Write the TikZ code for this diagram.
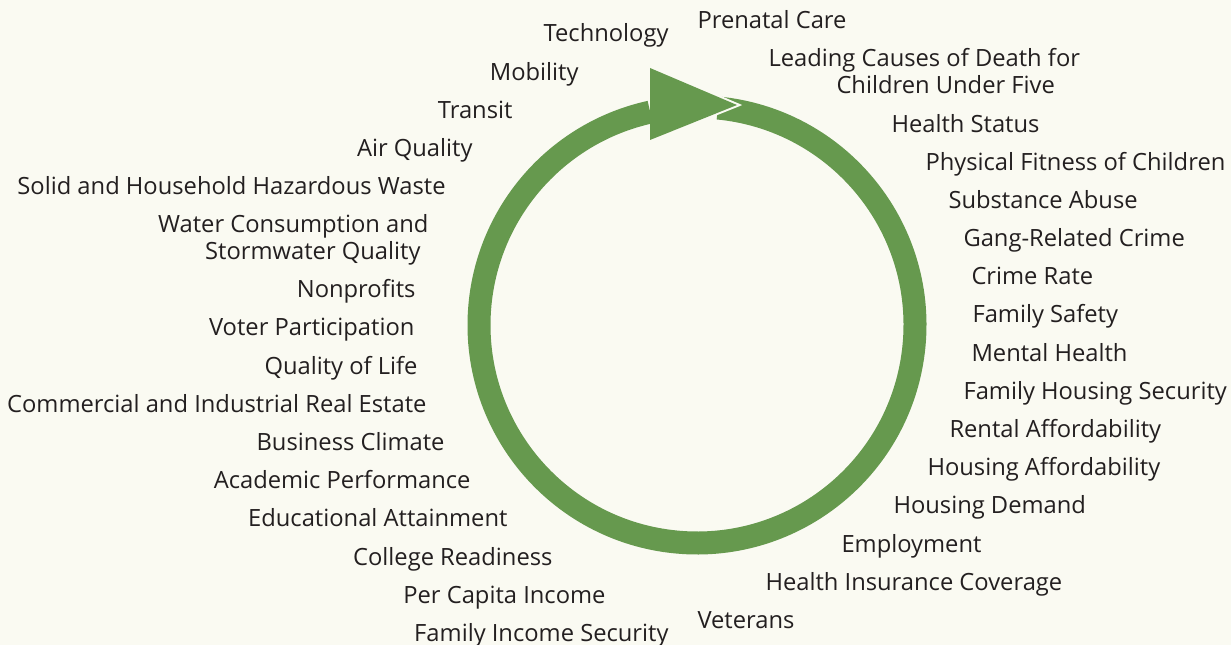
\documentclass[tikz,border=0pt]{standalone}
\usepackage{fontspec}
\setmainfont{Open Sans}
\definecolor{ringgreen}{RGB}{102,153,78}
\definecolor{paper}{RGB}{250,250,242}
\definecolor{ink}{RGB}{35,31,32}
\tikzset{every picture/.style={line width=0.75pt}}
\tikzset{lbl/.style={inner sep=0pt, text=ink, font=\fontsize{17.8}{19.9}\selectfont},
  lblR/.style={lbl, anchor=base west},
  lblL/.style={lbl, anchor=base east}}

\begin{document}
\begin{tikzpicture}[x=0.75pt,y=0.75pt,yscale=-1,xscale=1]
\fill [paper] (0,0) rectangle (1231,645) ;
\useasboundingbox (0,0) rectangle (1231,645) ;

%Ring
\coordinate (c) at (697,325) ;
\draw [ringgreen, line width=17.25pt] (c) ++(-84.5:218) arc[start angle=-84.5, end angle=257.6, radius=218] ;
%Arrow head
\coordinate (hT) at (650,68) ;
\coordinate (hP) at (737,105) ;
\coordinate (hB) at (650,140) ;
\draw [paper, line width=3pt, line join=miter] (hT) -- (hP) -- (hB) ;
\fill [ringgreen] (hT) -- (hP) -- (hB) -- cycle ;

%Right side
\node [lblR] (r1) at (697,29) {Prenatal Care} ;
\node [lblR, align=left] (r2) at (768,93.5) {Leading Causes of Death for\\\hspace*{51pt}Children Under Five} ;
\node [lblR] (r3) at (891,132.5) {Health Status} ;
\node [lblR] (r4) at (925,170.5) {Physical Fitness of Children} ;
\node [lblR] (r5) at (948,208.5) {Substance Abuse} ;
\node [lblR] (r6) at (963,246.5) {Gang-Related Crime} ;
\node [lblR] (r7) at (971,284.5) {Crime Rate} ;
\node [lblR] (r8) at (972,322.5) {Family Safety} ;
\node [lblR] (r9) at (971,361.5) {Mental Health} ;
\node [lblR] (r10) at (963,399.5) {Family Housing Security} ;
\node [lblR] (r11) at (949,437.5) {Rental Affordability} ;
\node [lblR] (r12) at (927,475.5) {Housing Affordability} ;
\node [lblR] (r13) at (893,513.5) {Housing Demand} ;
\node [lblR] (r14) at (841,552.5) {Employment} ;
\node [lblR] (r15) at (765,590.5) {Health Insurance Coverage} ;
\node [lblR] (r16) at (697,628.5) {Veterans} ;

%Left side
\node [lblL] (l1) at (669,41.5) {Technology} ;
\node [lblL] (l2) at (579,80.5) {Mobility} ;
\node [lblL] (l3) at (513,118.5) {Transit} ;
\node [lblL] (l4) at (473,156.5) {Air Quality} ;
\node [lblL] (l5) at (446,194.5) {Solid and Household Hazardous Waste} ;
\node [lblL, align=right] (l6) at (429,259.5) {Water Consumption and\\Stormwater Quality\hspace*{6pt}} ;
\node [lblL] (l7) at (416,297.5) {Nonprofits} ;
\node [lblL] (l8) at (415,335.5) {Voter Participation} ;
\node [lblL] (l9) at (418,374.5) {Quality of Life} ;
\node [lblL] (l10) at (427,412.5) {Commercial and Industrial Real Estate} ;
\node [lblL] (l11) at (445,450.5) {Business Climate} ;
\node [lblL] (l12) at (471,488.5) {Academic Performance} ;
\node [lblL] (l13) at (508,526.5) {Educational Attainment} ;
\node [lblL] (l14) at (553,565.5) {College Readiness} ;
\node [lblL] (l15) at (606,603.5) {Per Capita Income} ;
\node [lblL] (l16) at (669,641.5) {Family Income Security} ;
\end{tikzpicture}
\end{document}
